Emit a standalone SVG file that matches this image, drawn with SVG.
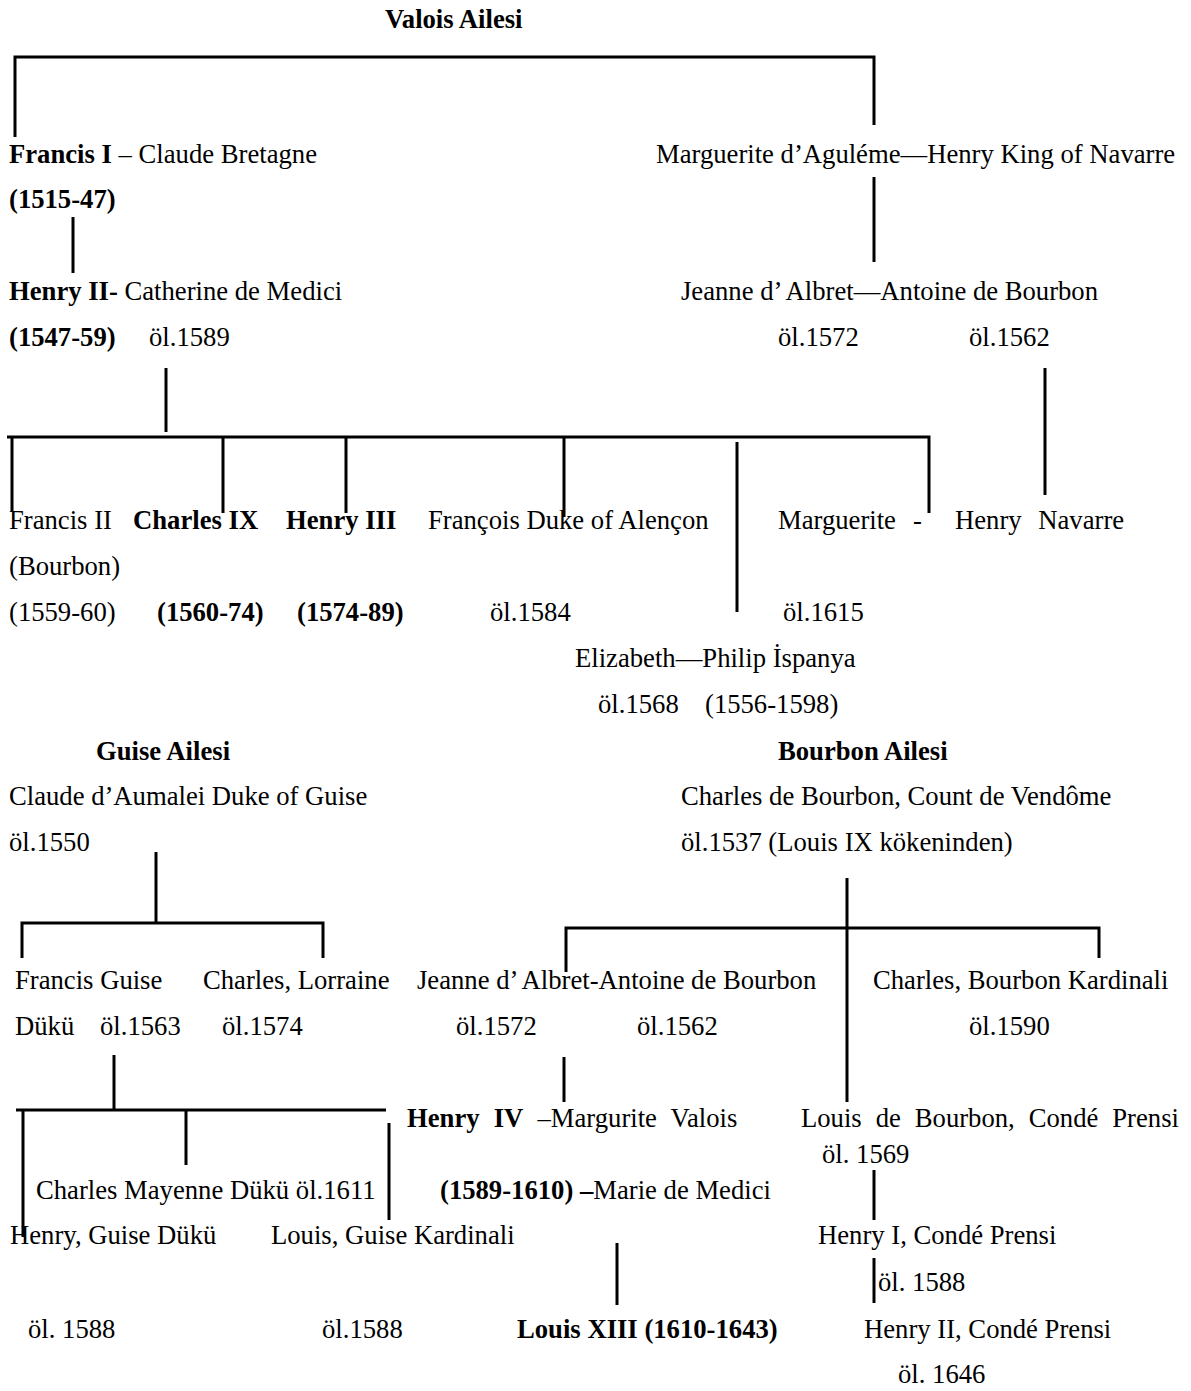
<svg xmlns="http://www.w3.org/2000/svg" width="1191" height="1391" viewBox="0 0 1191 1391">
<style>
text{font-family:"Liberation Serif","Times New Roman",serif;font-size:26.67px;fill:#000}
.b{font-weight:bold}
.c{stroke:#000;stroke-width:3;fill:none;stroke-linecap:butt}
</style>
<rect width="1191" height="1391" fill="#fff"/>
<g id="titles">
<text class="b" x="385" y="28">Valois Ailesi</text>
<text class="b" x="96" y="760">Guise Ailesi</text>
<text class="b" x="778" y="760">Bourbon Ailesi</text>
</g>
<g id="francis1"><text x="9" y="163"><tspan class="b">Francis I</tspan> – Claude Bretagne</text><text class="b" x="9" y="208">(1515-47)</text></g>
<g id="marguerite"><text x="656" y="163">Marguerite d’Aguléme—Henry King of Navarre</text></g>
<g id="henry2"><text x="9" y="300"><tspan class="b">Henry II-</tspan> Catherine de Medici</text><text class="b" x="9" y="346">(1547-59)</text><text x="149" y="346">öl.1589</text></g>
<g id="jeanne"><text x="681" y="300">Jeanne d’ Albret—Antoine de Bourbon</text><text x="778" y="346">öl.1572</text><text x="969" y="346">öl.1562</text></g>
<g id="francis2"><text x="9" y="529">Francis II</text><text x="9" y="575">(Bourbon)</text><text x="9" y="621">(1559-60)</text></g>
<g id="charles9"><text class="b" x="133" y="529">Charles IX</text><text class="b" x="157" y="621">(1560-74)</text></g>
<g id="henry3"><text class="b" x="286" y="529">Henry III</text><text class="b" x="297" y="621">(1574-89)</text></g>
<g id="francois"><text x="428" y="529">François Duke of Alençon</text><text x="490" y="621">öl.1584</text></g>
<g id="marguerite2"><text x="778" y="529">Marguerite</text><text x="913" y="529">-</text><text x="783" y="621">öl.1615</text></g>
<g id="henrynavarre"><text x="955" y="529" word-spacing="10">Henry Navarre</text></g>
<g id="elizabeth"><text x="575" y="667">Elizabeth—Philip İspanya</text><text x="598" y="713">öl.1568</text><text x="705" y="713">(1556-1598)</text></g>
<g id="claude"><text x="9" y="805">Claude d’Aumalei Duke of Guise</text><text x="9" y="851">öl.1550</text></g>
<g id="charlesbourbon"><text x="681" y="805">Charles de Bourbon, Count de Vendôme</text><text x="681" y="851">öl.1537 (Louis IX kökeninden)</text></g>
<g id="francisguise"><text x="15" y="989">Francis Guise</text><text x="15" y="1035">Dükü</text><text x="100" y="1035">öl.1563</text></g>
<g id="charleslorraine"><text x="203" y="989">Charles, Lorraine</text><text x="222" y="1035">öl.1574</text></g>
<g id="jeanne2"><text x="417" y="989">Jeanne d’ Albret-Antoine de Bourbon</text><text x="456" y="1035">öl.1572</text><text x="637" y="1035">öl.1562</text></g>
<g id="cardinal"><text x="873" y="989">Charles, Bourbon Kardinali</text><text x="969" y="1035">öl.1590</text></g>
<g id="henry4"><text x="407" y="1127" word-spacing="7.5"><tspan class="b">Henry IV</tspan> –Margurite Valois</text><text x="440" y="1199"><tspan class="b">(1589-1610) –</tspan>Marie de Medici</text></g>
<g id="louisbourbon"><text x="801" y="1127" word-spacing="7.3">Louis de Bourbon, Condé Prensi</text><text x="822" y="1163">öl. 1569</text></g>
<g id="mayenne"><text x="36" y="1199">Charles Mayenne Dükü öl.1611</text></g>
<g id="henryguise"><text x="10" y="1244">Henry, Guise Dükü</text><text x="28" y="1338">öl. 1588</text></g>
<g id="louisguise"><text x="271" y="1244">Louis, Guise Kardinali</text><text x="322" y="1338">öl.1588</text></g>
<g id="henry1conde"><text x="818" y="1244">Henry I, Condé Prensi</text><text x="878" y="1291">öl. 1588</text></g>
<g id="louis13"><text class="b" x="517" y="1338">Louis XIII (1610-1643)</text></g>
<g id="henry2conde"><text x="864" y="1338">Henry II, Condé Prensi</text><text x="898" y="1383">öl. 1646</text></g>
<g id="connectors" class="c">
<path class="c" d="M15,137V57H874V125"/>
<path class="c" d="M73,217V273"/>
<path class="c" d="M874,177V262"/>
<path class="c" d="M166,368V432"/>
<path class="c" d="M7,437H929V513"/>
<path class="c" d="M12,437V512M223,437V513M346,437V513M564,437V517"/>
<path class="c" d="M737,442V612"/>
<path class="c" d="M1045,368V495"/>
<path class="c" d="M156,852V923"/>
<path class="c" d="M22,958V923H323V958"/>
<path class="c" d="M847,878V1102"/>
<path class="c" d="M566,972V928H1099V958"/>
<path class="c" d="M114,1055V1110"/>
<path class="c" d="M16,1110H386"/>
<path class="c" d="M23,1110V1237M186,1110V1165M389,1123V1220"/>
<path class="c" d="M564,1057V1102"/>
<path class="c" d="M617,1243V1305"/>
<path class="c" d="M874,1170V1220"/>
<path class="c" d="M874,1258V1303"/>
</g>
</svg>
